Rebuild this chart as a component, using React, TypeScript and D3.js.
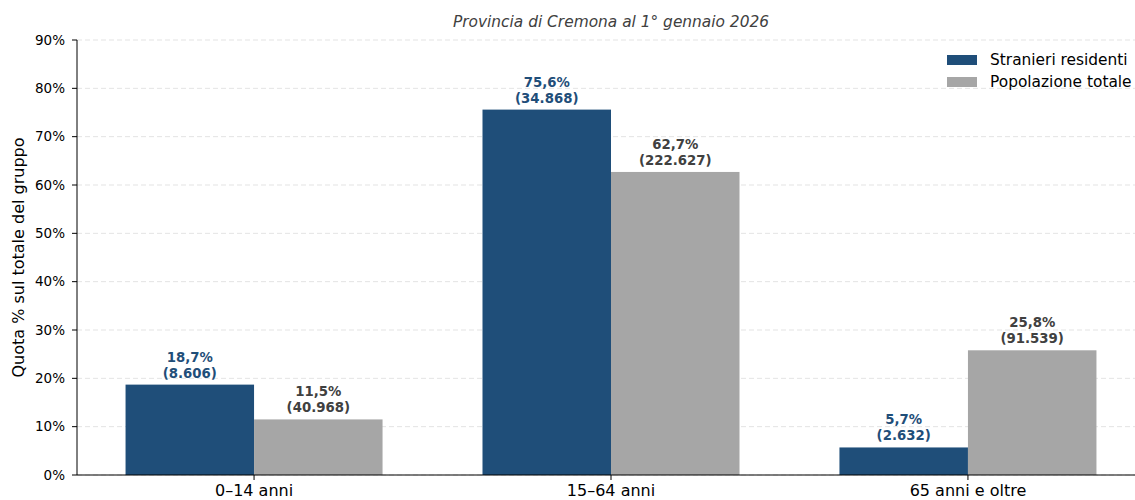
import * as d3 from 'd3';

const categories = ['0–14 anni', '15–64 anni', '65 anni e oltre'];
const stranieriPct = [18.7, 75.6, 5.7];
const stranieriCount = ['8.606', '34.868', '2.632'];
const totalePct = [11.5, 62.7, 25.8];
const totaleCount = ['40.968', '222.627', '91.539'];
const yTicks = [0, 10, 20, 30, 40, 50, 60, 70, 80, 90];
const seriesNames = ['Stranieri residenti', 'Popolazione totale'];

const W = 1135;
const H = 500;
const margin = { top: 40, left: 77, bottom: 25 };
const BLUE = '#1f4e79';
const GRAY = '#a6a6a6';
const barW = 0.36;

const fmtPct = (v: number) => v.toFixed(1).replace('.', ',') + '%';

export default function App() {
  const x = d3.scaleLinear().domain([-0.496, 2.496]).range([margin.left, 1145]);
  const y = d3.scaleLinear().domain([0, 90]).range([H - margin.bottom, margin.top]);
  const y0 = y(0);

  const series = [
    { name: seriesNames[0], pct: stranieriPct, counts: stranieriCount, color: BLUE, text: BLUE, off: -barW / 2 },
    { name: seriesNames[1], pct: totalePct, counts: totaleCount, color: GRAY, text: '#404040', off: barW / 2 },
  ];

  return (
    <svg width={W} height={H} style={{ position: 'absolute', left: 0, top: 0, fontFamily: 'DejaVu Sans, sans-serif' }}>
      <rect width={W} height={H} fill="#fff" />
      {yTicks.map(t => (
        <g key={t}>
          <line x1={margin.left} x2={W} y1={y(t)} y2={y(t)} stroke="#dcdcdc" strokeDasharray="5,3" strokeWidth={0.8} />
          <line x1={margin.left - 5} x2={margin.left} y1={y(t)} y2={y(t)} stroke="#000" strokeWidth={1} />
          <text x={margin.left - 12} y={y(t)} dy="0.35em" textAnchor="end" fontSize={13.5} fill="#000">{t}%</text>
        </g>
      ))}
      {series.map(s =>
        s.pct.map((v, i) => {
          const cx = x(i + s.off);
          const left = x(i + s.off - barW / 2);
          const right = x(i + s.off + barW / 2);
          return (
            <g key={s.name + i}>
              <rect x={left} y={y(v)} width={right - left} height={y0 - y(v)} fill={s.color} />
              <text x={cx} y={y(v) - 23} textAnchor="middle" fontSize={13.3} fontWeight="bold" fill={s.text}>{fmtPct(v)}</text>
              <text x={cx} y={y(v) - 7} textAnchor="middle" fontSize={13.3} fontWeight="bold" fill={s.text}>({s.counts[i]})</text>
            </g>
          );
        })
      )}
      <line x1={margin.left} x2={margin.left} y1={margin.top} y2={y0} stroke="#000" strokeWidth={1} />
      <line x1={margin.left} x2={W} y1={y0} y2={y0} stroke="#000" strokeWidth={1} />
      {categories.map((c, i) => (
        <g key={c}>
          <line x1={x(i)} x2={x(i)} y1={y0} y2={y0 + 5} stroke="#000" />
          <text x={x(i)} y={y0 + 21} textAnchor="middle" fontSize={16} fill="#000">{c}</text>
        </g>
      ))}
      <text transform={`translate(24,${(margin.top + y0) / 2}) rotate(-90)`} textAnchor="middle" fontSize={16} fill="#000">
        Quota % sul totale del gruppo
      </text>
      <text x={611} y={27} textAnchor="middle" fontSize={15.4} fontStyle="italic" fill="#404040">
        Provincia di Cremona al 1° gennaio 2026
      </text>
      {series.map((s, i) => (
        <g key={s.name} transform={`translate(947,${55 + i * 22})`}>
          <rect x={0} y={0} width={30} height={10} fill={s.color} />
          <text x={43} y={5} dy="0.35em" fontSize={15.4} fill="#000">{s.name}</text>
        </g>
      ))}
    </svg>
  );
}
